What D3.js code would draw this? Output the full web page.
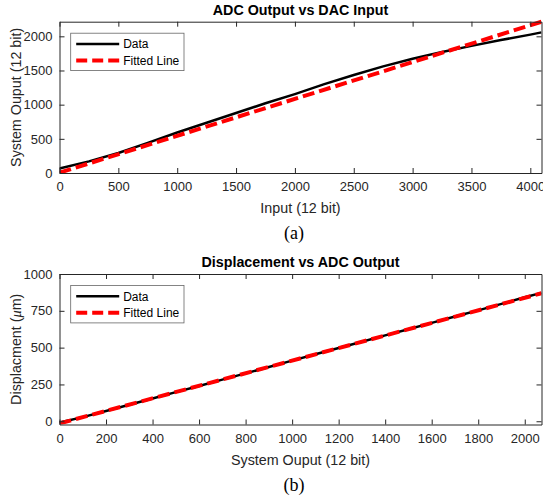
<!DOCTYPE html>
<html>
<head>
  <meta charset="utf-8">
  <title>ADC / Displacement</title>
  <script src="https://d3js.org/d3.v7.min.js"></script>
  <style>
    body { margin: 0; background: #fff; }
    svg { display: block; font-family: "Liberation Sans", Arial, sans-serif; }
  </style>
</head>
<body>
  <svg width="543" height="497"></svg>
  <script>
    // panel (a): ADC output vs DAC input
    var dacInput = [0, 250, 500, 750, 1000, 1250, 1500, 1750, 2000, 2250, 2500, 2750, 3000, 3250, 3500, 3750, 4000, 4095];
    var adcOutput = [65, 170, 292, 440, 592, 735, 878, 1020, 1155, 1300, 1435, 1560, 1672, 1772, 1860, 1945, 2025, 2058];
    var fitInputA = [0, 4095];
    var fitOutputA = [5, 2214];
    var ticksXA = [0, 500, 1000, 1500, 2000, 2500, 3000, 3500, 4000];
    var ticksYA = [0, 500, 1000, 1500, 2000];

    // panel (b): displacement vs ADC output
    var sysOutput = [0, 100, 200, 300, 400, 500, 600, 700, 800, 900, 1000, 1100, 1200, 1300, 1400, 1500, 1600, 1700, 1800, 1900, 2000, 2072];
    var displacement = [-8, 28, 70, 112, 155, 198, 240, 283, 325, 368, 412, 455, 497, 540, 583, 625, 668, 711, 753, 797, 842, 872];
    var fitInputB = [0, 2072];
    var fitOutputB = [-15, 869];
    var ticksXB = [0, 200, 400, 600, 800, 1000, 1200, 1400, 1600, 1800, 2000];
    var ticksYB = [0, 250, 500, 750, 1000];

    var svg = d3.select("svg");
    var axisColor = "#262626";
    var fmt = d3.format("d");

    function panel(opt) {
      var x = d3.scaleLinear().domain(opt.xDomain).range([59.5, 541.5]);
      var y = d3.scaleLinear().domain(opt.yDomain).range([opt.bottom, opt.top]);
      var g = svg.append("g");

      // data line
      var line = d3.line().x(function (d) { return x(d[0]); }).y(function (d) { return y(d[1]); });
      var clipId = "clip" + opt.name;
      svg.append("clipPath").attr("id", clipId).append("rect")
        .attr("x", 59.5).attr("y", opt.top - 3).attr("width", 482).attr("height", opt.bottom - opt.top + 3);

      g.append("path")
        .datum(d3.zip(opt.xs, opt.ys))
        .attr("clip-path", "url(#" + clipId + ")")
        .attr("fill", "none")
        .attr("stroke", "black")
        .attr("stroke-width", 2.5)
        .attr("stroke-linejoin", "round")
        .attr("d", line);

      g.append("path")
        .datum(d3.zip(opt.fx, opt.fy))
        .attr("clip-path", "url(#" + clipId + ")")
        .attr("fill", "none")
        .attr("stroke", "#ff0000")
        .attr("stroke-width", 4)
        .attr("stroke-dasharray", "12,5")
        .attr("d", line);

      // axes, box with inward ticks on all sides
      function styleAxis(a) {
        a.selectAll("path").attr("stroke", axisColor).attr("stroke-width", 1);
        a.selectAll("line").attr("stroke", axisColor).attr("stroke-width", 1);
        a.selectAll("text").attr("fill", axisColor).style("font-size", "13px").style("font-family", "Liberation Sans, Arial, sans-serif");
      }
      styleAxis(g.append("g").attr("transform", "translate(0," + opt.bottom + ")")
        .call(d3.axisBottom(x).tickValues(opt.tx).tickFormat(fmt).tickSizeInner(-5).tickSizeOuter(0).tickPadding(9)));
      styleAxis(g.append("g").attr("transform", "translate(0," + opt.top + ")")
        .call(d3.axisTop(x).tickValues(opt.tx).tickSizeInner(-5).tickSizeOuter(0).tickFormat("")));
      styleAxis(g.append("g").attr("transform", "translate(59.5,0)")
        .call(d3.axisLeft(y).tickValues(opt.ty).tickFormat(fmt).tickSizeInner(-5).tickSizeOuter(0).tickPadding(7)));
      styleAxis(g.append("g").attr("transform", "translate(541.5,0)")
        .call(d3.axisRight(y).tickValues(opt.ty).tickSizeInner(-5).tickSizeOuter(0).tickFormat("")));

      // title
      g.append("text")
        .attr("x", 300.5).attr("y", opt.top - 7)
        .attr("text-anchor", "middle")
        .style("font-size", "14.3px").style("font-weight", "bold")
        .attr("fill", "black")
        .text(opt.title);

      // x label
      g.append("text")
        .attr("x", 300.5).attr("y", opt.bottom + 40)
        .attr("text-anchor", "middle")
        .style("font-size", "14.3px")
        .attr("fill", axisColor)
        .text(opt.xLabel);

      // y label
      var yl = g.append("text")
        .attr("transform", "translate(21," + (opt.top + opt.bottom) / 2 + ") rotate(-90)")
        .attr("text-anchor", "middle")
        .style("font-size", "14.3px")
        .attr("fill", axisColor);
      opt.yLabel(yl);

      // caption
      g.append("text")
        .attr("x", 294).attr("y", opt.bottom + 66)
        .attr("text-anchor", "middle")
        .style("font-family", "Liberation Serif, Times New Roman, serif")
        .style("font-size", "18px")
        .attr("fill", "black")
        .text(opt.caption);

      // legend
      var lx = 70.7, ly = opt.top + 11.5;
      var lg = g.append("g").attr("transform", "translate(" + lx + "," + ly + ")");
      lg.append("rect").attr("width", 113.3).attr("height", 37.4)
        .attr("fill", "white").attr("stroke", "#666").attr("stroke-width", 0.8);
      lg.append("line").attr("x1", 5.5).attr("x2", 48.5).attr("y1", 10.7).attr("y2", 10.7)
        .attr("stroke", "black").attr("stroke-width", 2.5);
      lg.append("line").attr("x1", 5.5).attr("x2", 48.5).attr("y1", 27.3).attr("y2", 27.3)
        .attr("stroke", "#ff0000").attr("stroke-width", 4).attr("stroke-dasharray", "11,5");
      lg.append("text").attr("x", 52.5).attr("y", 15).style("font-size", "12px").attr("fill", "black").text("Data");
      lg.append("text").attr("x", 52.5).attr("y", 31.5).style("font-size", "12px").attr("fill", "black").text("Fitted Line");
    }

    panel({
      name: "a",
      xDomain: [0, 4095], yDomain: [0, 2214],
      top: 21.7, bottom: 173,
      xs: dacInput, ys: adcOutput, fx: fitInputA, fy: fitOutputA,
      tx: ticksXA, ty: ticksYA,
      title: "ADC Output vs DAC Input",
      xLabel: "Input (12 bit)",
      yLabel: function (t) { t.text("System Ouput (12 bit)"); },
      caption: "(a)"
    });

    panel({
      name: "b",
      xDomain: [0, 2072], yDomain: [-22, 1000],
      top: 274, bottom: 424.5,
      xs: sysOutput, ys: displacement, fx: fitInputB, fy: fitOutputB,
      tx: ticksXB, ty: ticksYB,
      title: "Displacement vs ADC Output",
      xLabel: "System Ouput (12 bit)",
      yLabel: function (t) {
        t.append("tspan").text("Displacment (");
        t.append("tspan").style("font-style", "italic").style("font-family", "Liberation Serif, Times New Roman, serif").text("\u03bc");
        t.append("tspan").text("m)");
      },
      caption: "(b)"
    });
  </script>
</body>
</html>
